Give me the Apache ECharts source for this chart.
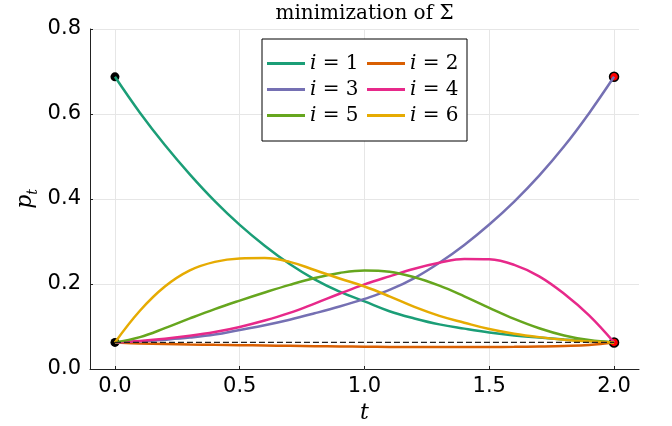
<!DOCTYPE html>
<html>
<head>
<meta charset="utf-8">
<script src="https://cdn.jsdelivr.net/npm/echarts@6/dist/echarts.min.js"></script>
<style>
html,body{margin:0;padding:0;background:#fff}
#chart{width:672px;height:426px}
</style>
</head>
<body>
<div id="chart"></div>
<script>
// time grid and the six state probabilities
var tValues = [0.0, 0.1, 0.2, 0.3, 0.4, 0.5, 0.6, 0.7, 0.8, 0.9, 1.0,
               1.1, 1.2, 1.3, 1.4, 1.5, 1.6, 1.7, 1.8, 1.9, 2.0];
var p1 = [0.6875, 0.603, 0.527, 0.458, 0.395, 0.339, 0.290, 0.247, 0.211, 0.182, 0.159,
          0.136, 0.119, 0.105, 0.095, 0.086, 0.079, 0.074, 0.0695, 0.0657, 0.0625];
var p2 = [0.0625, 0.0602, 0.0588, 0.0577, 0.0568, 0.0561, 0.0553, 0.0545, 0.0537, 0.053, 0.0524,
          0.052, 0.0517, 0.0515, 0.0515, 0.0516, 0.0521, 0.053, 0.0543, 0.0566, 0.0625];
var p3 = [0.0625, 0.065, 0.069, 0.074, 0.081, 0.092, 0.103, 0.116, 0.131, 0.147, 0.165,
          0.186, 0.214, 0.250, 0.292, 0.340, 0.394, 0.455, 0.524, 0.602, 0.6875];
var p4 = [0.0625, 0.066, 0.071, 0.078, 0.087, 0.099, 0.114, 0.132, 0.154, 0.177, 0.199,
          0.218, 0.236, 0.250, 0.259, 0.258, 0.245, 0.218, 0.177, 0.126, 0.0625];
var p5 = [0.0625, 0.075, 0.096, 0.119, 0.141, 0.161, 0.180, 0.198, 0.214, 0.226, 0.232,
          0.229, 0.216, 0.196, 0.171, 0.144, 0.118, 0.096, 0.079, 0.068, 0.0625];
var p6 = [0.0625, 0.137, 0.194, 0.232, 0.252, 0.260, 0.261, 0.252, 0.233, 0.213, 0.194,
          0.171, 0.146, 0.125, 0.109, 0.094, 0.083, 0.075, 0.069, 0.065, 0.0625];

var seriesNames = ['i = 1', 'i = 2', 'i = 3', 'i = 4', 'i = 5', 'i = 6'];
var seriesColors = ['#1b9e77', '#d95f02', '#7570b3', '#e7298a', '#66a61e', '#e6ab02'];

// boundary conditions and the uniform level
var startPoints = [[0, 0.6875], [0, 0.0625]];
var endPoints = [[2, 0.6875], [2, 0.0625]];
var uniformLevel = [[0, 0.0625], [2, 0.0625]];

var yTicks = [0, 0.2, 0.4, 0.6, 0.8];

function pairs(vals) {
    return tValues.map(function (t, k) { return [t, vals[k]]; });
}

var curves = [p1, p2, p3, p4, p5, p6];
var series = curves.map(function (vals, k) {
    return {
        name: seriesNames[k],
        type: 'line',
        data: pairs(vals),
        smooth: 0.4,
        symbol: 'none',
        lineStyle: { color: seriesColors[k], width: 2.5 },
        itemStyle: { color: seriesColors[k] }
    };
});
series.push({
    type: 'line',
    data: uniformLevel,
    symbol: 'none',
    lineStyle: { color: '#222', width: 1.2, type: [6, 3] }
});
series.push({
    type: 'scatter',
    data: startPoints,
    symbolSize: 9,
    itemStyle: { color: '#000', opacity: 1 }
});
series.push({
    type: 'scatter',
    data: endPoints,
    symbolSize: 9,
    itemStyle: { color: '#ff0000', borderColor: '#000', borderWidth: 1.5, opacity: 1 }
});

var axisFont = 'DejaVu Sans';
var mathFont = 'DejaVu Serif';

var chart = echarts.init(document.getElementById('chart'));
var option = {
    animation: false,
    backgroundColor: '#fff',
    graphic: [{
        type: 'text',
        x: 364.5,
        y: 4,
        style: {
            text: 'minimization of Σ',
            fontFamily: mathFont,
            fontSize: 20,
            fill: '#000',
            align: 'center',
            verticalAlign: 'top'
        }
    }],
    grid: {
        left: 90,
        right: 33,
        top: 29,
        bottom: 57,
        outerBoundsMode: 'none'
    },
    legend: {
        data: seriesNames,
        left: 262,
        top: 39,
        width: 200,
        orient: 'horizontal',
        padding: [14, 5, 15, 5],
        borderColor: '#000',
        borderWidth: 1,
        backgroundColor: '#fff',
        icon: 'rect',
        itemWidth: 38,
        itemHeight: 3,
        itemGap: 5,
        formatter: function (name) {
            return '{i|i}' + name.slice(1);
        },
        textStyle: {
            fontFamily: mathFont,
            fontSize: 20,
            color: '#000',
            width: 52,
            lineHeight: 21,
            rich: {
                i: { fontFamily: mathFont, fontStyle: 'italic', fontSize: 20, lineHeight: 21 }
            }
        }
    },
    xAxis: {
        type: 'value',
        min: -0.1,
        max: 2.1,
        splitNumber: 5,
        name: 't',
        nameLocation: 'middle',
        nameGap: 33,
        nameMoveOverlap: false,
        nameTextStyle: { fontFamily: mathFont, fontStyle: 'italic', fontSize: 22, color: '#000' },
        axisLine: { show: true, onZero: false, lineStyle: { color: '#222', width: 1 } },
        axisTick: { show: true, inside: true, length: 3, lineStyle: { color: '#222' } },
        axisLabel: {
            showMinLabel: false,
            showMaxLabel: false,
            margin: 7,
            fontFamily: axisFont,
            fontSize: 21,
            color: '#000',
            formatter: function (v) { return v.toFixed(1); }
        },
        splitLine: {
            show: true,
            showMinLine: false,
            showMaxLine: false,
            lineStyle: { color: '#e6e6e6', width: 1 }
        }
    },
    yAxis: {
        type: 'value',
        min: yTicks[0],
        max: yTicks[yTicks.length - 1],
        interval: 0.2,
        name: '{p|p}{s|t}',
        nameLocation: 'middle',
        nameRotate: 90,
        nameGap: 50,
        nameMoveOverlap: false,
        nameTextStyle: {
            color: '#000',
            rich: {
                p: { fontFamily: mathFont, fontStyle: 'italic', fontSize: 22, lineHeight: 30, verticalAlign: 'middle' },
                s: { fontFamily: mathFont, fontStyle: 'italic', fontSize: 14, lineHeight: 30, verticalAlign: 'bottom' }
            }
        },
        axisLine: { show: true, onZero: false, lineStyle: { color: '#222', width: 1 } },
        axisTick: { show: true, inside: true, length: 3, lineStyle: { color: '#222' } },
        axisLabel: {
            margin: 9,
            fontFamily: axisFont,
            fontSize: 21,
            color: '#000',
            formatter: function (v) { return v.toFixed(1); }
        },
        splitLine: {
            show: true,
            showMinLine: false,
            showMaxLine: true,
            lineStyle: { color: '#e6e6e6', width: 1 }
        }
    },
    series: series
};
chart.setOption(option);
window.addEventListener('resize', function () {
    chart.resize();
});
</script>
</body>
</html>
